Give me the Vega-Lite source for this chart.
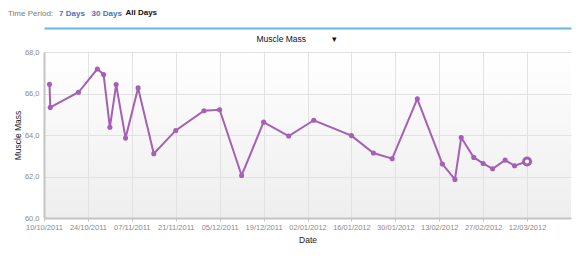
{
  "$schema": "https://vega.github.io/schema/vega-lite/v6.json",
  "width": 527,
  "height": 166,
  "autosize": {"type": "none"},
  "padding": {"left": 44, "top": 52, "right": 13, "bottom": 40},
  "background": "#ffffff",
  "title": {
    "text": "Time Period:",
    "subtitle": "\u200b\u00a0\u00a0\u00a0\u00a0\u00a0\u00a0\u00a0\u00a0\u00a0\u00a0\u00a0\u00a0\u00a0\u00a0\u00a0\u00a0\u00a0\u00a0\u00a0\u00a0\u00a0\u00a0\u00a07 Days\u00a0\u00a0\u00a030 Days",
    "anchor": "start",
    "frame": "group",
    "dx": -36,
    "dy": 10,
    "fontSize": 8,
    "font": "Liberation Sans",
    "fontWeight": "normal",
    "color": "#7a7a7a",
    "subtitleFont": "Liberation Sans",
    "subtitleFontSize": 8,
    "subtitleFontWeight": "bold",
    "subtitleColor": "#4a72b8",
    "subtitlePadding": -8,
    "offset": 0
  },
  "config": {
    "locale": {"number": {"decimal": ",", "thousands": ".", "grouping": [3], "currency": ["", " €"]}},
    "view": {
      "stroke": null,
      "fill": {"gradient": "linear", "x1": 0, "y1": 0, "x2": 0, "y2": 1, "stops": [{"offset": 0, "color": "#ffffff"}, {"offset": 1, "color": "#eeeeee"}]}
    },
    "axis": {
      "labelFont": "Liberation Sans",
      "titleFont": "Liberation Sans",
      "labelColor": "#8a8a8a",
      "titleColor": "#222222",
      "titleFontWeight": "normal",
      "gridColor": "#e2e2e2",
      "gridWidth": 1,
      "domainColor": "#c4c4c4",
      "domainWidth": 2,
      "tickColor": "#c4c4c4"
    }
  },
  "data": {
    "values": [
      {"date": "2011-10-11T18:00:00Z", "muscle_mass": 66.44},
      {"date": "2011-10-12", "muscle_mass": 65.33},
      {"date": "2011-10-21", "muscle_mass": 66.06},
      {"date": "2011-10-27", "muscle_mass": 67.18},
      {"date": "2011-10-29", "muscle_mass": 66.91},
      {"date": "2011-10-31", "muscle_mass": 64.37},
      {"date": "2011-11-02", "muscle_mass": 66.43},
      {"date": "2011-11-05", "muscle_mass": 63.85},
      {"date": "2011-11-09", "muscle_mass": 66.27},
      {"date": "2011-11-14", "muscle_mass": 63.10},
      {"date": "2011-11-21", "muscle_mass": 64.22},
      {"date": "2011-11-30", "muscle_mass": 65.17},
      {"date": "2011-12-05", "muscle_mass": 65.22},
      {"date": "2011-12-12", "muscle_mass": 62.05},
      {"date": "2011-12-19", "muscle_mass": 64.62},
      {"date": "2011-12-27", "muscle_mass": 63.95},
      {"date": "2012-01-04", "muscle_mass": 64.71},
      {"date": "2012-01-16", "muscle_mass": 63.97},
      {"date": "2012-01-23", "muscle_mass": 63.13},
      {"date": "2012-01-29", "muscle_mass": 62.86},
      {"date": "2012-02-06", "muscle_mass": 65.74},
      {"date": "2012-02-14", "muscle_mass": 62.60},
      {"date": "2012-02-18", "muscle_mass": 61.86},
      {"date": "2012-02-20", "muscle_mass": 63.88},
      {"date": "2012-02-24", "muscle_mass": 62.92},
      {"date": "2012-02-27", "muscle_mass": 62.63},
      {"date": "2012-03-01", "muscle_mass": 62.37},
      {"date": "2012-03-05", "muscle_mass": 62.79},
      {"date": "2012-03-08", "muscle_mass": 62.52},
      {"date": "2012-03-12", "muscle_mass": 62.72}
    ]
  },
  "resolve": {"axis": {"x": "independent", "y": "independent"}},
  "layer": [
    {
      "mark": {"type": "line", "color": "#a55fb4", "strokeWidth": 2, "point": {"filled": true, "size": 26, "color": "#a55fb4"}},
      "encoding": {
        "x": {
          "field": "date", "type": "temporal",
          "scale": {"type": "utc", "domain": [{"year": 2011, "month": 10, "date": 10, "utc": true}, {"year": 2012, "month": 3, "date": 26, "utc": true}]},
          "axis": {
            "title": "Date",
            "titleFontSize": 8.5,
            "titlePadding": 5,
            "format": "%d/%m/%Y",
            "labelFontSize": 7.5,
            "labelPadding": 2,
            "labelFlush": false,
            "tickSize": 3,
            "labelOverlap": false,
            "values": [
              {"year": 2011, "month": 10, "date": 10, "utc": true},
              {"year": 2011, "month": 10, "date": 24, "utc": true},
              {"year": 2011, "month": 11, "date": 7, "utc": true},
              {"year": 2011, "month": 11, "date": 21, "utc": true},
              {"year": 2011, "month": 12, "date": 5, "utc": true},
              {"year": 2011, "month": 12, "date": 19, "utc": true},
              {"year": 2012, "month": 1, "date": 2, "utc": true},
              {"year": 2012, "month": 1, "date": 16, "utc": true},
              {"year": 2012, "month": 1, "date": 30, "utc": true},
              {"year": 2012, "month": 2, "date": 13, "utc": true},
              {"year": 2012, "month": 2, "date": 27, "utc": true},
              {"year": 2012, "month": 3, "date": 12, "utc": true}
            ]
          }
        },
        "y": {
          "field": "muscle_mass", "type": "quantitative",
          "scale": {"domain": [60, 68], "nice": false, "zero": false},
          "axis": {
            "title": "Muscle Mass",
            "titleFontSize": 8.5,
            "titlePadding": 2,
            "values": [60, 62, 64, 66, 68],
            "format": ".1f",
            "labelFontSize": 7.5,
            "labelPadding": 5,
            "ticks": false
          }
        }
      }
    },
    {
      "transform": [
        {"window": [{"op": "row_number", "as": "rank"}], "sort": [{"field": "date", "order": "descending"}]},
        {"filter": "datum.rank == 1"}
      ],
      "mark": {"type": "point", "filled": false, "size": 50, "strokeWidth": 3, "color": "#a55fb4", "fill": "#ffffff", "fillOpacity": 1},
      "encoding": {
        "x": {
          "field": "date", "type": "temporal",
          "axis": {"orient": "top", "labels": false, "ticks": false, "grid": false,
            "domain": true, "domainColor": "#6ab6e2", "domainWidth": 2, "offset": 24,
            "title": "Muscle Mass\u00a0\u00a0\u00a0\u00a0\u00a0\u00a0\u00a0\u00a0\u00a0\u00a0\u00a0▾",
            "titleFontSize": 8.5, "titleColor": "#111111", "titleAlign": "left", "titleAnchor": "start", "titleX": 212, "titleY": 10, "titleBaseline": "middle"}
        },
        "y": {
          "field": "muscle_mass", "type": "quantitative",
          "axis": {"orient": "right", "labels": false, "ticks": false, "domain": false, "grid": false,
            "title": "All Days", "titleAngle": 0, "titleFontSize": 8, "titleFontWeight": "bold", "titleColor": "#111111",
            "titleAlign": "left", "titleX": -446, "titleY": -40, "titleBaseline": "middle"}
        }
      }
    }
  ]
}
